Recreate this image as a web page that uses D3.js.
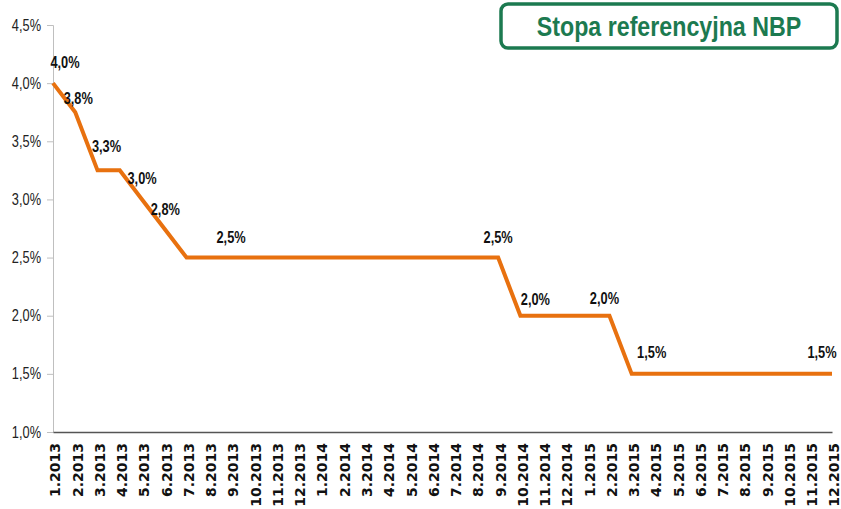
<!DOCTYPE html>
<html lang="pl">
<head>
  <meta charset="UTF-8">
  <title>Stopa referencyjna NBP</title>
  <script src="https://d3js.org/d3.v7.min.js"></script>
  <style>
    body { margin: 0; background: #fff; }
  </style>
</head>
<body>
  <svg id="chart" width="841" height="509"></svg>
  <script>
    // months 1.2013 .. 12.2015
    const months = [];
    [2013, 2014, 2015].forEach(y => { for (let m = 1; m <= 12; m++) months.push(m + '.' + y); });

    const rates = [4.0, 3.75, 3.25, 3.25, 3.0, 2.75, 2.5, 2.5, 2.5, 2.5, 2.5, 2.5,
                   2.5, 2.5, 2.5, 2.5, 2.5, 2.5, 2.5, 2.5, 2.5, 2.0, 2.0, 2.0,
                   2.0, 2.0, 1.5, 1.5, 1.5, 1.5, 1.5, 1.5, 1.5, 1.5, 1.5, 1.5];

    // which points get a value label, and the text shown
    const labelIdx  = [0, 1, 2, 4, 5, 8, 20, 21, 25, 26, 35];
    const labelText = ['4,0%', '3,8%', '3,3%', '3,0%', '2,8%', '2,5%', '2,5%', '2,0%', '2,0%', '1,5%', '1,5%'];
    const labelDx   = [12, 3, 9, 0, 1, 0, 0, 15, -5, 20, -10];
    const labelDy   = [-21, -14, -24, -21, -19, -20, -20, -16, -17, -21, -21];

    const yTicks = [1.0, 1.5, 2.0, 2.5, 3.0, 3.5, 4.0, 4.5];

    const narrow = 0.8; // no narrow font installed, squeeze the glyphs instead

    const svg = d3.select('#chart');
    const margins = { top: 25, right: 9, bottom: 77, left: 53 };
    const width = +svg.attr('width');
    const height = +svg.attr('height');
    const chartWidth = width - margins.left - margins.right;
    const chartHeight = height - margins.top - margins.bottom;

    const g = svg.append('g').attr('transform', `translate(${margins.left},${margins.top})`);

    const x = d3.scalePoint().domain(months).range([0, chartWidth]);
    const y = d3.scaleLinear().domain([1.0, 4.5]).range([chartHeight, 0]);

    // y axis
    const yAxis = g.append('g')
      .call(d3.axisLeft(y).tickValues(yTicks).tickSize(6).tickPadding(6)
        .tickFormat(d => d.toFixed(1).replace('.', ',') + '%'));
    yAxis.select('.domain').attr('stroke', '#bfbfbf');
    yAxis.selectAll('.tick line').attr('stroke', '#bfbfbf');
    yAxis.selectAll('.tick text')
      .attr('x', -12 / narrow)
      .attr('transform', `scale(${narrow},1)`)
      .attr('fill', '#222')
      .style('font-family', '"Liberation Sans", Arial, sans-serif')
      .style('font-size', '16px');

    // x axis
    const xAxis = g.append('g')
      .attr('transform', `translate(0,${chartHeight})`)
      .call(d3.axisBottom(x).tickSize(0).tickPadding(0));
    xAxis.select('.domain').attr('stroke', '#555').attr('stroke-width', 1.5);
    xAxis.selectAll('.tick text')
      .attr('transform', 'rotate(-90)')
      .attr('text-anchor', 'end')
      .attr('x', -11)
      .attr('y', 2)
      .attr('dy', '0.35em')
      .attr('fill', '#111')
      .style('font-family', '"DejaVu Sans", Verdana, sans-serif')
      .style('font-weight', 'bold')
      .style('font-size', '14px');

    // line
    const line = d3.line()
      .x((d, i) => x(months[i]))
      .y(d => y(d));

    g.append('path')
      .datum(rates)
      .attr('fill', 'none')
      .attr('stroke', '#E8710F')
      .attr('stroke-width', 4)
      .attr('stroke-linejoin', 'miter')
      .attr('d', line);

    // value labels
    g.selectAll('text.lbl')
      .data(labelIdx)
      .enter()
      .append('text')
      .attr('class', 'lbl')
      .attr('transform', (d, i) =>
        `translate(${x(months[d]) + labelDx[i]},${y(rates[d]) + labelDy[i]}) scale(${narrow},1)`)
      .attr('text-anchor', 'middle')
      .attr('dy', '0.35em')
      .attr('fill', '#111')
      .style('font-family', '"Liberation Sans", Arial, sans-serif')
      .style('font-weight', 'bold')
      .style('font-size', '16px')
      .text((d, i) => labelText[i]);

    // title box
    const title = svg.append('g');
    title.append('rect')
      .attr('x', 501).attr('y', 4)
      .attr('width', 336).attr('height', 44)
      .attr('rx', 7)
      .attr('fill', '#fff')
      .attr('stroke', '#1C7A50')
      .attr('stroke-width', 3.5);
    title.append('text')
      .attr('transform', `translate(669,36) scale(0.86,1)`)
      .attr('text-anchor', 'middle')
      .attr('fill', '#1C7A50')
      .style('font-family', '"Liberation Sans", Arial, sans-serif')
      .style('font-weight', 'bold')
      .style('font-size', '27px')
      .text('Stopa referencyjna NBP');
  </script>
</body>
</html>
